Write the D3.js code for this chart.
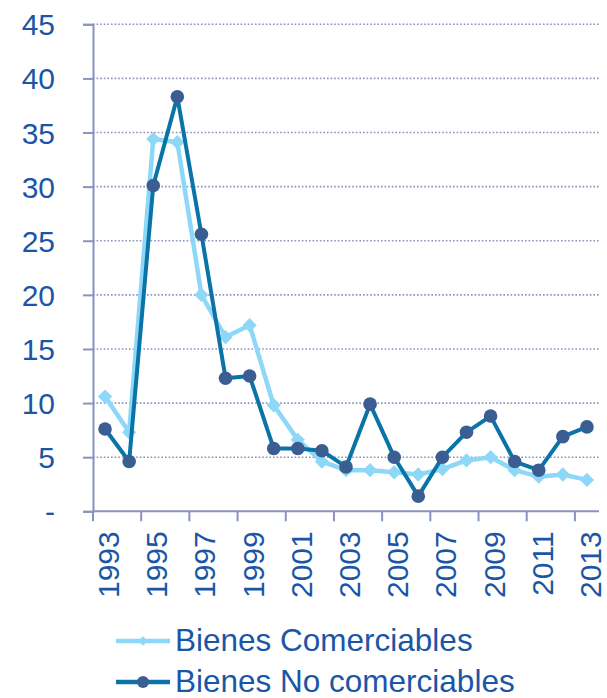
<!DOCTYPE html>
<html>
<head>
<meta charset="utf-8">
<script src="https://cdn.jsdelivr.net/npm/d3@7/dist/d3.min.js"></script>
<style>
  html, body { margin: 0; padding: 0; background: #ffffff; }
  text { font-family: "Liberation Sans", Arial, sans-serif; }
</style>
</head>
<body>
<svg id="chart" width="607" height="698"></svg>
<script>
// Yearly inflation series: tradable vs. non-tradable goods
const years = d3.range(1993, 2014);
const comerciables = [10.6, 7.3, 34.4, 34.1, 20.0, 16.1, 17.2, 9.8, 6.6, 4.6, 3.8,
                      3.8, 3.6, 3.4, 3.9, 4.7, 5.0, 3.8, 3.2, 3.4, 2.9];
const noComerciables = [7.6, 4.6, 30.1, 38.3, 25.6, 12.3, 12.5, 5.8, 5.8, 5.6, 4.1,
                        9.9, 5.0, 1.4, 5.0, 7.3, 8.8, 4.6, 3.8, 6.9, 7.8];
const yTicks = [0, 5, 10, 15, 20, 25, 30, 35, 40, 45];
const seriesNames = ["Bienes Comerciables", "Bienes No comerciables"];

const textColor = "#1b56a6";
const axisColor = "#8a92bf";
const lightColor = "#8dd8f8";
const darkLine = "#0a74a8";
const darkMarker = "#3a5e91";

const svg = d3.select("#chart");
const plotLeft = 93, plotRight = 599, plotTop = 24.3, plotBottom = 511.3;

const x = d3.scaleBand().domain(years).range([plotLeft, plotRight]).padding(0);
const y = d3.scaleLinear().domain([0, 45]).range([plotBottom, plotTop]);
const cx = d => x(d) + x.bandwidth() / 2;

// dotted horizontal gridlines
svg.append("g").selectAll("line")
  .data(yTicks.filter(t => t > 0))
  .join("line")
  .attr("x1", plotLeft).attr("x2", plotRight)
  .attr("y1", d => y(d)).attr("y2", d => y(d))
  .attr("stroke", axisColor).attr("stroke-width", 1.6)
  .attr("stroke-dasharray", "1.6,2");

// y axis
const yAxis = d3.axisLeft(y).tickValues(yTicks).tickSize(10).tickPadding(28)
  .tickFormat(d => d === 0 ? "-" : d);
const gy = svg.append("g").attr("transform", `translate(${plotLeft},0)`).call(yAxis);
gy.select(".domain").attr("stroke", axisColor).attr("stroke-width", 2);
gy.selectAll(".tick line").attr("stroke", axisColor).attr("stroke-width", 2);
gy.selectAll(".tick text").attr("fill", textColor).attr("font-size", 30)
  .attr("font-family", "Liberation Sans, Arial, sans-serif")
  .attr("dy", "0.35em");

// x axis line and tick marks every two years
svg.append("line")
  .attr("x1", plotLeft).attr("x2", plotRight).attr("y1", plotBottom).attr("y2", plotBottom)
  .attr("stroke", axisColor).attr("stroke-width", 2);
svg.append("g").selectAll("line")
  .data(years.filter((d, i) => i % 2 === 0))
  .join("line")
  .attr("x1", d => x(d)).attr("x2", d => x(d))
  .attr("y1", plotBottom).attr("y2", plotBottom + 10)
  .attr("stroke", axisColor).attr("stroke-width", 2);

// rotated year labels (odd years)
svg.append("g").selectAll("text")
  .data(years.filter((d, i) => i % 2 === 0))
  .join("text")
  .attr("transform", d => `translate(${cx(d) + 14},${plotBottom + 20}) rotate(-90)`)
  .attr("text-anchor", "end")
  .attr("fill", textColor).attr("font-size", 30)
  .text(d => d);

const line = d3.line().x((d, i) => cx(years[i])).y(d => y(d));

// Bienes Comerciables
svg.append("path").datum(comerciables)
  .attr("d", line).attr("fill", "none")
  .attr("stroke", lightColor).attr("stroke-width", 4.5).attr("stroke-linejoin", "round");
svg.append("g").selectAll("path")
  .data(comerciables)
  .join("path")
  .attr("d", d3.symbol(d3.symbolDiamond2, 130))
  .attr("transform", (d, i) => `translate(${cx(years[i])},${y(d)})`)
  .attr("fill", lightColor);

// Bienes No comerciables
svg.append("path").datum(noComerciables)
  .attr("d", line).attr("fill", "none")
  .attr("stroke", darkLine).attr("stroke-width", 4).attr("stroke-linejoin", "round");
svg.append("g").selectAll("circle")
  .data(noComerciables)
  .join("circle")
  .attr("cx", (d, i) => cx(years[i])).attr("cy", d => y(d))
  .attr("r", 6.8).attr("fill", darkMarker);

// legend
const legend = svg.append("g");
const legendRows = [
  { name: seriesNames[0], color: lightColor, y: 641, marker: "diamond" },
  { name: seriesNames[1], color: darkLine, y: 682, marker: "circle" }
];
legendRows.forEach(r => {
  legend.append("line").attr("x1", 116).attr("x2", 170)
    .attr("y1", r.y).attr("y2", r.y)
    .attr("stroke", r.color).attr("stroke-width", 4.5);
  if (r.marker === "diamond") {
    legend.append("path").attr("d", d3.symbol(d3.symbolDiamond2, 60))
      .attr("transform", `translate(143,${r.y})`).attr("fill", lightColor);
  } else {
    legend.append("circle").attr("cx", 143).attr("cy", r.y).attr("r", 6)
      .attr("fill", darkMarker);
  }
  legend.append("text").attr("x", 175).attr("y", r.y + 9.5)
    .attr("fill", textColor).attr("font-size", 31.5).text(r.name);
});
</script>
</body>
</html>
